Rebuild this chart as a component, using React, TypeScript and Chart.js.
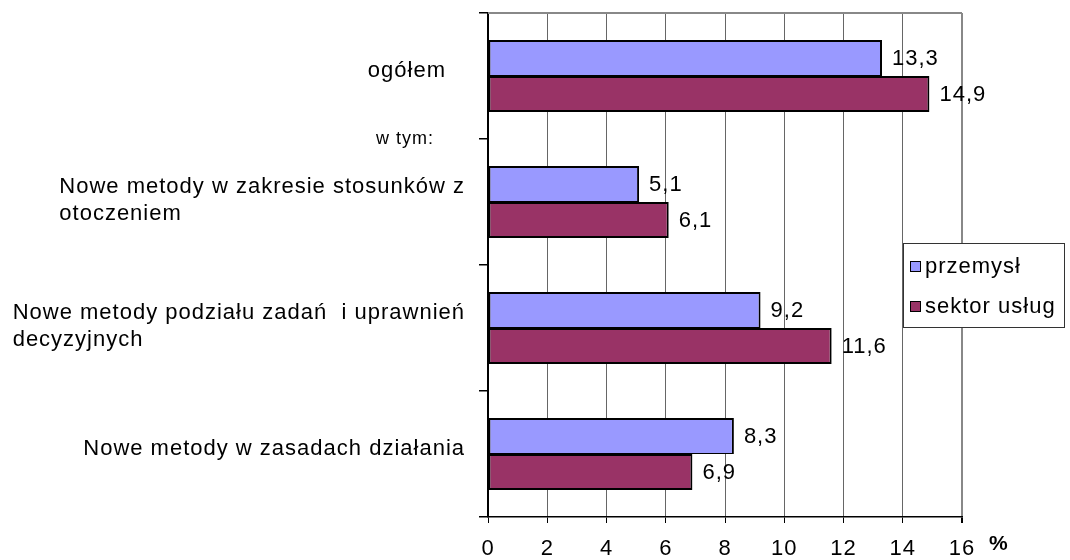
import React, { useEffect, useRef } from "react";
import { Chart, registerables } from "chart.js";

Chart.register(...registerables);

// ---- data ----
const categories: string[][] = [
  ["ogółem"],
  ["Nowe metody w zakresie stosunków z", "otoczeniem"],
  ["Nowe metody podziału zadań  i uprawnień", "decyzyjnych"],
  ["Nowe metody w zasadach działania"],
];
const subLabel = "w tym:";
const seriesNames = ["przemysł", "sektor usług"];
const przemysl = [13.3, 5.1, 9.2, 8.3];
const sektorUslug = [14.9, 6.1, 11.6, 6.9];
const xMin = 0;
const xMax = 16;
const xStep = 2;
const axisUnit = "%";
const seriesColors = ["#9999FF", "#993366"];

const FONT = '"Liberation Sans", Arial, sans-serif';
const SPACING = "1px";
const FS = 22;

const fmt = (v: number) => v.toFixed(1).replace(".", ",");

const customPlugin = {
  id: "customDraw",
  beforeDraw(chart: any) {
    (chart.ctx as any).letterSpacing = SPACING;
  },
  afterDraw(chart: any) {
    const ctx = chart.ctx as CanvasRenderingContext2D & { letterSpacing: string };
    const { left, right, top } = chart.chartArea;
    const xScale = chart.scales.x;
    const yScale = chart.scales.y;
    ctx.save();
    ctx.letterSpacing = SPACING;

    // top border of plot area
    ctx.strokeStyle = "#888888";
    ctx.lineWidth = 2;
    ctx.beginPath();
    ctx.moveTo(left, top);
    ctx.lineTo(right, top);
    ctx.stroke();

    // category labels
    ctx.fillStyle = "#000";
    ctx.font = `${FS}px ${FONT}`;
    ctx.textBaseline = "middle";
    ctx.textAlign = "left";
    const lineH = 27;
    categories.forEach((lines, i) => {
      const cy = yScale.getPixelForValue(i) - (lines.length > 1 ? 2 : 5);
      const w = Math.max(...lines.map((l) => ctx.measureText(l).width - 1));
      const rx = xScale.left - (i === 0 ? 43 : 24);
      const startY = cy - ((lines.length - 1) * lineH) / 2;
      lines.forEach((l, k) => ctx.fillText(l, rx - w, startY + k * lineH));
    });

    // "w tym:" between first and second category
    ctx.font = `18px ${FONT}`;
    ctx.textAlign = "right";
    const midY = (yScale.getPixelForValue(0) + yScale.getPixelForValue(1)) / 2;
    ctx.fillText(subLabel, xScale.left - 54, midY);

    // data labels
    ctx.font = `${FS}px ${FONT}`;
    ctx.textAlign = "left";
    chart.data.datasets.forEach((ds: any, di: number) => {
      const meta = chart.getDatasetMeta(di);
      meta.data.forEach((bar: any, i: number) => {
        ctx.fillText(fmt(ds.data[i]), bar.x + 10, bar.y + 1);
      });
    });

    // legend
    const bx = 903, by = 243, bw = 161, bh = 84;
    ctx.fillStyle = "#fff";
    ctx.fillRect(bx, by, bw, bh);
    ctx.strokeStyle = "#333";
    ctx.lineWidth = 1;
    ctx.strokeRect(bx + 0.5, by + 0.5, bw, bh);
    const itemYs = [by + 23, by + 63];
    seriesNames.forEach((name, i) => {
      const cy = itemYs[i];
      ctx.fillStyle = seriesColors[i];
      ctx.fillRect(bx + 7, cy - 5, 11, 11);
      ctx.strokeStyle = "#000";
      ctx.strokeRect(bx + 7.5, cy - 4.5, 10, 10);
      ctx.fillStyle = "#000";
      ctx.font = `${FS}px ${FONT}`;
      ctx.textAlign = "left";
      ctx.fillText(name, bx + 22, cy + 1);
    });

    // axis unit
    ctx.font = `bold 21px ${FONT}`;
    ctx.textAlign = "left";
    ctx.fillText(axisUnit, right + 27, 544);

    ctx.restore();
  },
};

export default function App() {
  const ref = useRef<HTMLCanvasElement>(null);
  useEffect(() => {
    if (!ref.current) return;
    const chart = new Chart(ref.current, {
      type: "bar",
      data: {
        labels: categories,
        datasets: [
          {
            label: seriesNames[0],
            data: przemysl,
            backgroundColor: seriesColors[0],
            borderColor: "#000",
            borderWidth: { top: 2, right: 2, bottom: 1, left: 2 },
            borderSkipped: false,
          },
          {
            label: seriesNames[1],
            data: sektorUslug,
            backgroundColor: seriesColors[1],
            borderColor: "#000",
            borderWidth: { top: 2, right: 2, bottom: 2, left: 2 },
            borderSkipped: false,
          },
        ],
      },
      options: {
        indexAxis: "y",
        responsive: false,
        devicePixelRatio: 1,
        animation: false,
        datasets: { bar: { categoryPercentage: 0.57, barPercentage: 1 } },
        layout: { padding: { top: 13, right: 108, left: 0, bottom: 0 } },
        plugins: {
          legend: { display: false },
          tooltip: { enabled: false },
          title: { display: false },
        },
        scales: {
          x: {
            type: "linear",
            min: xMin,
            max: xMax,
            ticks: {
              stepSize: xStep,
              color: "#000",
              font: { family: FONT, size: FS },
              padding: 13,
            },
            grid: {
              color: (c: any) =>
                c.tick && c.tick.value === xMax ? "#888888" : c.tick && c.tick.value === xMin ? "#000" : "#666666",
              lineWidth: (c: any) => (c.tick && c.tick.value === xMax ? 2 : 1),
              drawTicks: true,
              tickLength: 6,
              tickColor: "#000",
            },
            border: { display: true, color: "#000", width: 1.5 },
            afterFit: (s: any) => {
              s.height = 43;
            },
          },
          y: {
            type: "category",
            offset: true,
            ticks: { display: false },
            grid: {
              offset: true,
              drawOnChartArea: false,
              drawTicks: true,
              tickLength: 9,
              color: "#000",
              tickColor: "#000",
              lineWidth: 1.5,
            },
            border: { display: true, color: "#000", width: 1.5 },
            afterFit: (s: any) => {
              s.width = 488;
            },
          },
        },
      },
      plugins: [customPlugin],
    } as any);
    return () => chart.destroy();
  }, []);

  return (
    <div
      style={{
        position: "absolute",
        left: 0,
        top: 0,
        width: 1070,
        height: 560,
        background: "#fff",
      }}
    >
      <canvas
        ref={ref}
        width={1070}
        height={560}
        style={{ display: "block", width: 1070, height: 560 }}
      />
    </div>
  );
}
